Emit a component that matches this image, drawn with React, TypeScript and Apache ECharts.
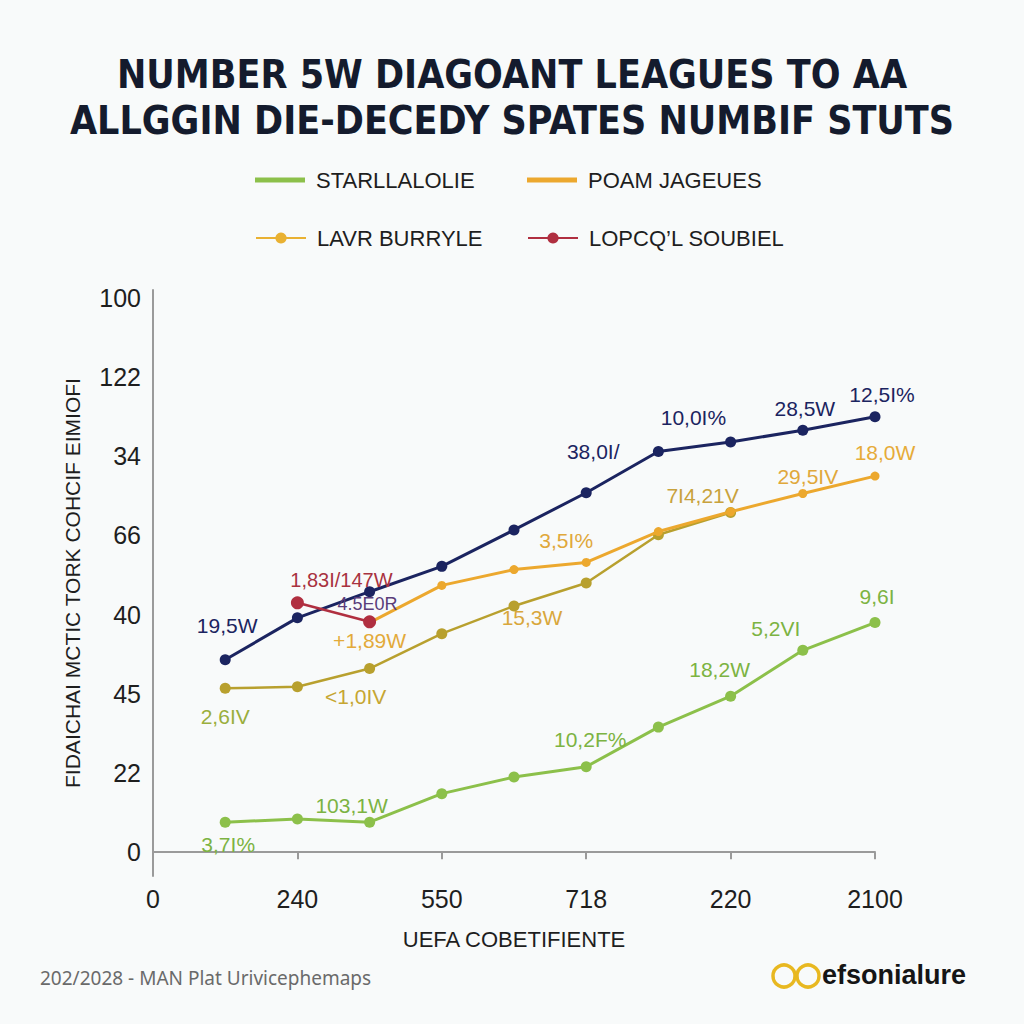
import React, { useEffect, useRef } from 'react';
import * as echarts from 'echarts';

const titleText = 'NUMBER 5W DIAGOANT LEAGUES TO AA\nALLGGIN DIE-DECEDY SPATES NUMBIF STUTS';
const xAxisName = 'UEFA COBETIFIENTE';
const yAxisName = 'FIDAICHAI MCTIC TORK COHCIF EIMIOFI';
const footerText = '202/2028 - MAN Plat Urivicephemaps';
const logoText = 'efsonialure';

const xPositions = [1, 2, 3, 4, 5, 6, 7, 8, 9, 10];
const xTickLabels = ['0', '240', '550', '718', '220', '2100'];
const yTickLabels = ['0', '22', '45', '40', '66', '34', '122', '100'];

const legendNames = ['STARLLALOLIE', 'POAM JAGEUES', 'LAVR BURRYLE', 'LOPCQ\u2019L SOUBIEL'];

const navyValues = [24.3, 29.6, 32.9, 36.1, 40.7, 45.4, 50.6, 51.8, 53.3, 55.0];
const orangeValues = [null, null, 29.0, 33.7, 35.7, 36.6, 40.5, 43.0, 45.3, 47.5];
const oliveValues = [20.7, 20.9, 23.2, 27.6, 31.1, 34.0, 40.1, 42.9, null, null];
const redValues = [null, 31.5, 29.1, null, null, null, null, null, null, null];
const greenValues = [3.8, 4.2, 3.8, 7.4, 9.5, 10.8, 15.8, 19.7, 25.5, 29.0];

const navyLabels = ['19,5W', '', '4.5E0R', '', '', '38,0I/', '10,0I%', '', '28,5W', '12,5I%'];
const orangeLabels = ['', '', '+1,89W', '', '', '3,5I%', '', '7I4,21V', '29,5IV', '18,0W'];
const oliveLabels = ['2,6IV', '', '<1,0IV', '', '15,3W', '', '', '', '', ''];
const redLabels = ['', '1,83I/147W', '', '', '', '', '', '', '', ''];
const greenLabels = ['3,7I%', '', '103,1W', '', '', '10,2F%', '', '18,2W', '5,2VI', '9,6I'];

const C_NAVY = '#1b2460';
const C_ORANGE = '#eca82e';
const C_OLIVE = '#b8a02e';
const C_RED = '#b02f40';
const C_GREEN = '#8cc04a';

const LABEL_FONT = "'Liberation Sans', Arial, sans-serif";

// label offsets / colours / sizes (styling, not data)
type LS = [number, number, string, number?];
const navyLabelStyle: Record<number, LS> = {
  0: [2, -34, C_NAVY], 2: [-2, 12, '#5a3d7a', 18], 5: [7, -41, C_NAVY], 6: [35, -34, C_NAVY], 8: [2, -22, C_NAVY], 9: [7, -22, C_NAVY],
};
const orangeLabelStyle: Record<number, LS> = {
  2: [0, 18, '#e3aa3a'], 5: [-20, -22, '#e0a83a'], 7: [-28, -16, '#c8a23c'], 8: [5, -17, '#e0a83a'], 9: [10, -24, '#e6ab38'],
};
const oliveLabelStyle: Record<number, LS> = {
  0: [0, 28, '#9aae3c'], 2: [-14, 28, '#c6a632'], 4: [18, 12, '#d9a73c'],
};
const redLabelStyle: Record<number, LS> = {
  1: [44, -23, '#a8323f', 20],
};
const greenLabelStyle: Record<number, LS> = {
  0: [3, 22, '#7cb342'], 2: [-18, -17, '#7cb342'], 5: [4, -27, '#7cb342'], 7: [-11, -27, '#7cb342'], 8: [-27, -22, '#7cb342'], 9: [2, -26, '#7cb342'],
};

function buildData(values: (number | null)[], labels: string[], styles: Record<number, LS>) {
  const out: any[] = [];
  values.forEach((v, i) => {
    if (v === null) return;
    const st = styles[i];
    const item: any = { value: [xPositions[i], v] };
    if (labels[i] && st) {
      item.label = {
        show: true,
        position: 'inside',
        offset: [st[0], st[1]],
        formatter: labels[i],
        color: st[2],
        fontSize: st[3] ?? 21,
        fontFamily: LABEL_FONT,
      };
    }
    out.push(item);
  });
  return out;
}

export default function App() {
  const ref = useRef<HTMLDivElement>(null);
  useEffect(() => {
    if (!ref.current) return;
    const chart = echarts.init(ref.current, null, { renderer: 'svg' });
    const lineSeries = (name: string, color: string, width: number, size: number, data: any[], z: number) => ({
      name,
      type: 'line',
      data,
      z,
      symbol: 'circle',
      symbolSize: size,
      showSymbol: true,
      lineStyle: { color, width },
      itemStyle: { color },
      label: { show: false },
      emphasis: { disabled: true },
    });
    const legendBase = {
      orient: 'horizontal',
      itemWidth: 50,
      itemHeight: 14,
      selectedMode: false,
      textStyle: { fontSize: 22, color: '#1e1e1e', fontFamily: LABEL_FONT, padding: [0, 0, 0, 6] },
    };
    chart.setOption({
      animation: false,
      backgroundColor: '#f8fafa',
      title: {
        text: titleText,
        left: 'center',
        top: 46,
        textStyle: {
          fontSize: 39,
          fontWeight: 'bold',
          lineHeight: 46,
          color: '#141b2d',
          fontFamily: "'DejaVu Sans Condensed', 'DejaVu Sans', sans-serif",
        },
      },
      legend: [
        { ...legendBase, left: 250, top: 164, data: [{ name: legendNames[0], icon: 'rect' }], itemHeight: 5 },
        { ...legendBase, left: 522, top: 164, data: [{ name: legendNames[1], icon: 'rect' }], itemHeight: 5 },
        { ...legendBase, left: 250, top: 222, data: [{ name: legendNames[2], itemStyle: { color: '#e9b132' }, lineStyle: { color: '#e9b132' } }] },
        { ...legendBase, left: 522, top: 222, data: [{ name: legendNames[3] }] },
      ],
      grid: { left: 153, top: 290, width: 722, height: 586, containLabel: false },
      xAxis: {
        type: 'value',
        min: 0,
        max: 10,
        interval: 2,
        name: xAxisName,
        nameLocation: 'middle',
        nameGap: 52,
        nameTextStyle: { fontSize: 22, color: '#1e1e1e', fontFamily: LABEL_FONT },
        axisLine: { show: true, lineStyle: { color: '#9a9a9a', width: 2 } },
        axisTick: { show: true, length: 7, lineStyle: { color: '#9a9a9a', width: 2 } },
        splitLine: { show: false },
        axisLabel: {
          fontSize: 25,
          color: '#1e1e1e',
          margin: 10,
          fontFamily: LABEL_FONT,
          formatter: (v: number) => xTickLabels[Math.round(v / 2)] ?? '',
        },
      },
      yAxis: {
        type: 'value',
        min: -3,
        max: 71,
        minInterval: 10,
        maxInterval: 10,
        name: yAxisName,
        nameLocation: 'middle',
        nameGap: 70,
        nameRotate: 90,
        nameTextStyle: { fontSize: 21, color: '#1e1e1e', fontFamily: LABEL_FONT },
        axisLine: { show: true, lineStyle: { color: '#9a9a9a', width: 2 } },
        axisTick: { show: false },
        splitLine: { show: false },
        axisLabel: {
          fontSize: 25,
          color: '#1e1e1e',
          margin: 12,
          fontFamily: LABEL_FONT,
          showMinLabel: true,
          showMaxLabel: true,
          formatter: (v: number) => {
            const k = v / 10;
            if (Math.abs(k - Math.round(k)) > 1e-6) return '';
            return yTickLabels[Math.round(k)] ?? '';
          },
        },
      },
      series: [
        lineSeries(legendNames[0], C_GREEN, 3, 11, buildData(greenValues, greenLabels, greenLabelStyle), 2),
        lineSeries(legendNames[2], C_OLIVE, 2.5, 11, buildData(oliveValues, oliveLabels, oliveLabelStyle), 3),
        lineSeries(legendNames[1], C_ORANGE, 3, 9, buildData(orangeValues, orangeLabels, orangeLabelStyle), 4),
        lineSeries('NAVY', C_NAVY, 3, 11, buildData(navyValues, navyLabels, navyLabelStyle), 5),
        lineSeries(legendNames[3], C_RED, 2.5, 13, buildData(redValues, redLabels, redLabelStyle), 6),
      ],
      graphic: [
        {
          type: 'text',
          left: 40,
          top: 968,
          style: { text: footerText, fontSize: 19, fill: '#6a6a6a', fontFamily: "'Noto Sans', sans-serif" },
        },
        { type: 'circle', shape: { cx: 784, cy: 976, r: 11 }, style: { fill: 'none', stroke: '#e8b820', lineWidth: 3.5 } },
        { type: 'circle', shape: { cx: 808, cy: 976, r: 11 }, style: { fill: 'none', stroke: '#e8b820', lineWidth: 3.5 } },
        {
          type: 'text',
          left: 822,
          top: 961,
          style: { text: logoText, fontSize: 27, fontWeight: 'bold', fill: '#151515', fontFamily: LABEL_FONT },
        },
      ],
    });
    return () => chart.dispose();
  }, []);
  return <div ref={ref} style={{ position: 'fixed', left: 0, top: 0, width: 1024, height: 1024 }} />;
}
